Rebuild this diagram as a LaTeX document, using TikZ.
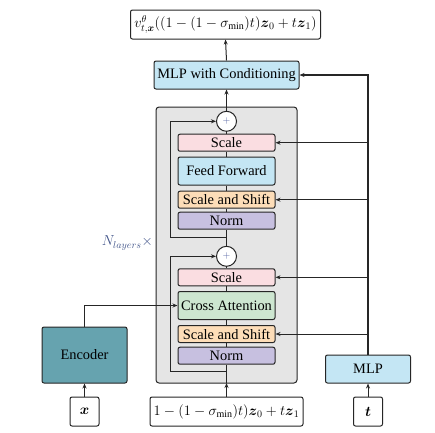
\documentclass[tikz,border=0pt]{standalone}
\usepackage{amsmath}
\usepackage{fontspec}
\setmainfont{Liberation Serif}
\usetikzlibrary{arrows.meta}
\definecolor{cScale}{HTML}{FADDE1}
\definecolor{cFF}{HTML}{C4E6F4}
\definecolor{cSS}{HTML}{FDDDB8}
\definecolor{cNorm}{HTML}{C7C0E0}
\definecolor{cCA}{HTML}{CDE6D0}
\definecolor{cEnc}{HTML}{66A3AF}
\definecolor{cGray}{HTML}{E5E5E5}
\definecolor{cPlus}{HTML}{5565A5}
\definecolor{cLabel}{HTML}{3F5288}
\begin{document}
\begin{tikzpicture}[x=1pt,y=-1pt,font=\Large,
  blk/.style={draw=black!85,line width=1pt,rounded corners=2pt,inner sep=0pt,align=center},
  inner/.style={blk,minimum width=97pt},
  plus/.style={circle,draw=black!85,line width=1pt,fill=white,minimum size=20pt,inner sep=0pt,text=cPlus,font=\normalsize},
  conn/.style={line width=1pt,draw=black!85},
  arr/.style={conn,-{Stealth[length=5pt,width=4pt]}}]
\useasboundingbox (0,0) rectangle (435,432);
% gray block
\node[draw=black!85,line width=1pt,rounded corners=3pt,fill=cGray,minimum width=141pt,minimum height=276pt,inner sep=0pt] (blk) at (226.5,245) {};
% top output
\node[blk,minimum width=190pt,minimum height=29pt,fill=white] (out) at (225.5,24.5) {$v^{\theta}_{t,\boldsymbol{x}}((1-(1-\sigma_{\min})t)\boldsymbol{z}_0+t\boldsymbol{z}_1)$};
\node[blk,minimum width=145pt,minimum height=28pt,fill=cFF] (mlpc) at (226.5,75) {MLP with Conditioning};
% layer 1
\node[plus] (p1) at (226.5,121.3) {$+$};
\node[inner,minimum height=17pt,fill=cScale] (sc1) at (226.5,142.7) {Scale};
\node[inner,minimum height=28pt,fill=cFF] (ff) at (226.5,171) {Feed Forward};
\node[inner,minimum height=17pt,fill=cSS] (ss1) at (226.5,199.7) {Scale and Shift};
\node[inner,minimum height=17pt,fill=cNorm] (n1) at (226.5,220.7) {Norm};
% layer 2
\node[plus] (p2) at (226.5,256.3) {$+$};
\node[inner,minimum height=17pt,fill=cScale] (sc2) at (226.5,277.3) {Scale};
\node[inner,minimum height=28pt,fill=cCA] (ca) at (226.5,305.5) {Cross Attention};
\node[inner,minimum height=17pt,fill=cSS] (ss2) at (226.5,334) {Scale and Shift};
\node[inner,minimum height=17pt,fill=cNorm] (n2) at (226.5,355.7) {Norm};
% bottom
\node[blk,minimum width=153pt,minimum height=29pt,fill=white] (in) at (226.5,411.5) {$1-(1-\sigma_{\min})t)\boldsymbol{z}_0+t\boldsymbol{z}_1$};
\node[blk,minimum width=29pt,minimum height=29pt,fill=white] (xin) at (84.5,411.5) {$\boldsymbol{x}$};
\node[blk,minimum width=29pt,minimum height=29pt,fill=white] (tin) at (368,411.5) {$\boldsymbol{t}$};
\node[blk,minimum width=85pt,minimum height=56pt,fill=cEnc] (enc) at (84.5,355) {Encoder};
\node[blk,minimum width=85pt,minimum height=28pt,fill=cFF] (mlp) at (368,369) {MLP};
\node[anchor=east,text=cLabel,inner sep=0pt] (nl) at (153,243) {$N_{layers}\times$};
% coordinates
\coordinate (bb) at (226.5,383);
\coordinate (r2) at (226.5,371.7);
\coordinate (r2l) at (170,371.7);
\coordinate (r2t) at (170,256.3);
\coordinate (r1) at (226.5,237.7);
\coordinate (r1l) at (170,237.7);
\coordinate (r1t) at (170,121.3);
\coordinate (ej) at (84.5,305.5);
\coordinate (mj) at (368,75);
% main path
\draw[arr] (in.north) -- (bb);
\draw[conn] (bb) -- (n2.south);
\draw[conn] (n2.north) -- (ss2.south);
\draw[conn] (ss2.north) -- (ca.south);
\draw[conn] (ca.north) -- (sc2.south);
\draw[conn] (sc2.north) -- (p2.south);
\draw[conn] (p2.north) -- (n1.south);
\draw[conn] (n1.north) -- (ss1.south);
\draw[conn] (ss1.north) -- (ff.south);
\draw[conn] (ff.north) -- (sc1.south);
\draw[conn] (sc1.north) -- (p1.south);
\draw[arr] (p1.north) -- (mlpc.south);
\draw[arr] (mlpc.north) -- (out.south);
% residuals
\draw[arr] (r2) -- (r2l) -- (r2t) -- (p2.west);
\draw[arr] (r1) -- (r1l) -- (r1t) -- (p1.west);
% encoder
\draw[arr] (xin.north) -- (enc.south);
\draw[arr] (enc.north) -- (ej) -- (ca.west);
% conditioning
\draw[arr] (tin.north) -- (mlp.south);
\draw[arr,line width=1.4pt] (mlp.north) -- (mj) -- (mlpc.east);
\draw[arr] (368,142.7) -- (sc1.east);
\draw[arr] (368,199.7) -- (ss1.east);
\draw[arr] (368,277.3) -- (sc2.east);
\draw[arr] (368,334) -- (ss2.east);
\end{tikzpicture}
\end{document}
